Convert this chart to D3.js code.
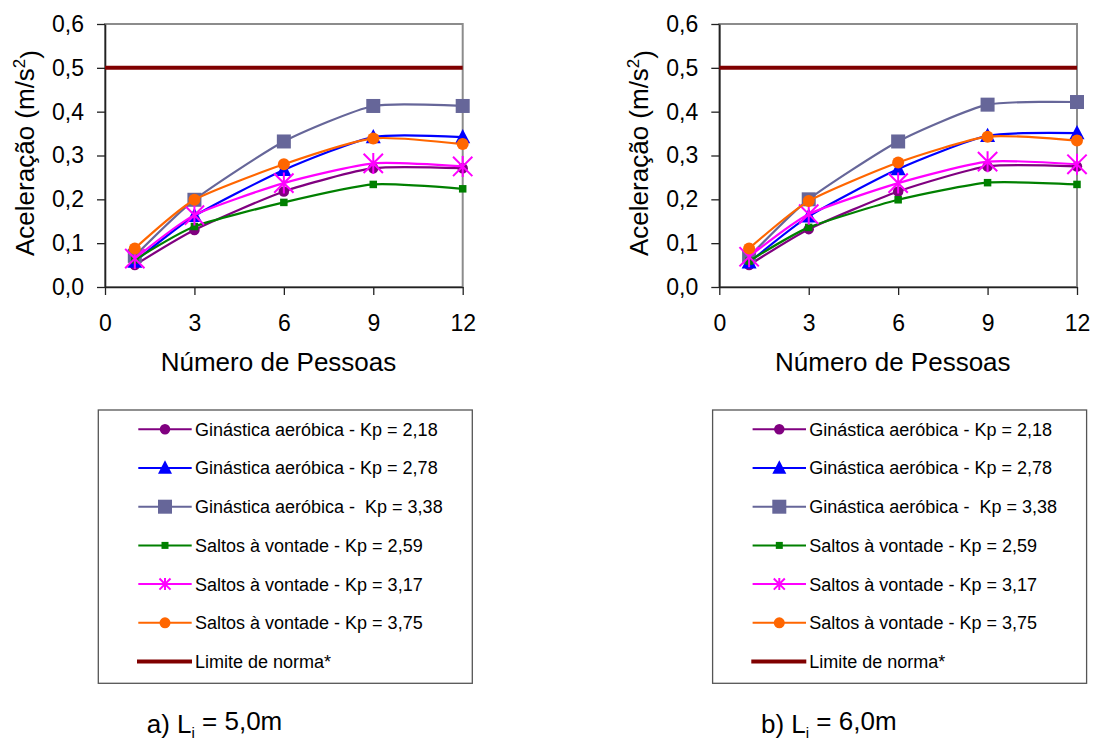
<!DOCTYPE html>
<html>
<head>
<meta charset="utf-8">
<script src="https://cdn.jsdelivr.net/npm/d3@7"></script>
<style>
  html, body { margin: 0; padding: 0; background: #fff; }
  svg { display: block; font-family: "Liberation Sans", Arial, sans-serif; }
</style>
</head>
<body>
<svg id="chart" width="1097" height="742"></svg>
<script>
// ---------- data ----------
const xPeople = [1, 3, 6, 9, 12];
const xTickValues = [0, 3, 6, 9, 12];
const yTickValues = [0, 0.1, 0.2, 0.3, 0.4, 0.5, 0.6];
const seriesLabels = [
  "Ginástica aeróbica - Kp = 2,18",
  "Ginástica aeróbica - Kp = 2,78",
  "Ginástica aeróbica -  Kp = 3,38",
  "Saltos à vontade - Kp = 2,59",
  "Saltos à vontade - Kp = 3,17",
  "Saltos à vontade - Kp = 3,75"
];
const limitLabel = "Limite de norma*";
const limitValue = 0.5;
const yTitle = "Aceleração (m/s";
const xTitle = "Número de Pessoas";

// panel a) Li = 5,0m
const a_gin218 = [0.050, 0.130, 0.218, 0.271, 0.271];
const a_gin278 = [0.058, 0.162, 0.267, 0.342, 0.342];
const a_gin338 = [0.071, 0.199, 0.332, 0.413, 0.413];
const a_sal259 = [0.062, 0.138, 0.193, 0.234, 0.224];
const a_sal317 = [0.065, 0.164, 0.237, 0.282, 0.275];
const a_sal375 = [0.088, 0.199, 0.280, 0.339, 0.326];
// panel b) Li = 6,0m
const b_gin218 = [0.050, 0.132, 0.218, 0.275, 0.275];
const b_gin278 = [0.056, 0.161, 0.269, 0.345, 0.351];
const b_gin338 = [0.069, 0.200, 0.332, 0.416, 0.422];
const b_sal259 = [0.059, 0.136, 0.199, 0.238, 0.234];
const b_sal317 = [0.069, 0.166, 0.237, 0.286, 0.280];
const b_sal375 = [0.088, 0.196, 0.284, 0.343, 0.334];

const captionPrefix = ["a) L", "b) L"];
const captionSuffix = [" = 5,0m", " = 6,0m"];

// ---------- styles ----------
const seriesStyles = [
  { color: "#800080", marker: "circle", size: 10.5, lsize: 10.5 },
  { color: "#0000FF", marker: "triangle", size: 15, lsize: 14 },
  { color: "#666699", marker: "square", size: 14, lsize: 14 },
  { color: "#008000", marker: "square", size: 7.5, lsize: 7 },
  { color: "#FF00FF", marker: "star", size: 21, lsize: 12 },
  { color: "#FF6600", marker: "circle", size: 12, lsize: 11 }
];
const limitColor = "#800000";

const panels = [
  { dx: 0, series: [a_gin218, a_gin278, a_gin338, a_sal259, a_sal317, a_sal375] },
  { dx: 614.3, series: [b_gin218, b_gin278, b_gin338, b_sal259, b_sal317, b_sal375] }
];

const svg = d3.select("#chart");
const FONT = '"Liberation Sans", Arial, sans-serif';

function drawMarker(g, type, x, y, s, color) {
  if (type === "circle") {
    g.append("circle").attr("cx", x).attr("cy", y).attr("r", s / 2).attr("fill", color);
  } else if (type === "square") {
    g.append("rect").attr("x", x - s / 2).attr("y", y - s / 2).attr("width", s).attr("height", s).attr("fill", color);
  } else if (type === "triangle") {
    const h = s * 0.95;
    g.append("path")
      .attr("d", `M${x},${y - h / 2 - 1}L${x + s / 2},${y + h / 2 - 1}L${x - s / 2},${y + h / 2 - 1}Z`)
      .attr("fill", color);
  } else if (type === "star") {
    const r = s / 2;
    const d = r * 0.92;
    g.append("path")
      .attr("d", `M${x},${y - r}L${x},${y + r}M${x - d},${y - d}L${x + d},${y + d}M${x - d},${y + d}L${x + d},${y - d}`)
      .attr("stroke", color).attr("stroke-width", 2).attr("fill", "none");
  }
}

panels.forEach((p, pi) => {
  const g = svg.append("g").attr("transform", `translate(${p.dx},0)`);
  const x = d3.scaleLinear().domain([0, 12]).range([105, 462.7]);
  const y = d3.scaleLinear().domain([0, 0.6]).range([287, 24]);

  // plot frame (top/right gray)
  g.append("rect")
    .attr("x", x(0)).attr("y", y(0.6))
    .attr("width", x(12) - x(0)).attr("height", y(0) - y(0.6))
    .attr("fill", "none").attr("stroke", "#8c8c8c").attr("stroke-width", 2);

  // axes
  const fmt = v => d3.format(".1f")(v).replace(".", ",");
  const yAxis = g.append("g").attr("transform", `translate(${x(0)},0)`)
    .call(d3.axisLeft(y).tickValues(yTickValues).tickFormat(fmt).tickSize(8).tickSizeOuter(0).tickPadding(13));
  const xAxis = g.append("g").attr("transform", `translate(0,${y(0)})`)
    .call(d3.axisBottom(x).tickValues(xTickValues).tickSize(8).tickSizeOuter(0).tickPadding(20));
  [yAxis, xAxis].forEach(a => {
    a.select(".domain").attr("stroke", "#222").attr("stroke-width", 1.6);
    a.selectAll(".tick line").attr("stroke", "#222").attr("stroke-width", 1.3);
    a.selectAll(".tick text").attr("fill", "#000").style("font-family", FONT).style("font-size", "23px");
  });

  // limit line
  g.append("line")
    .attr("x1", x(0)).attr("x2", x(12)).attr("y1", y(limitValue)).attr("y2", y(limitValue))
    .attr("stroke", limitColor).attr("stroke-width", 4);

  // series
  const line = d3.line().x((d, i) => x(xPeople[i])).y(d => y(d)).curve(d3.curveCardinal.tension(0.4));
  p.series.forEach((vals, si) => {
    const st = seriesStyles[si];
    const sg = g.append("g");
    sg.append("path").attr("d", line(vals)).attr("fill", "none")
      .attr("stroke", st.color).attr("stroke-width", 2.2);
    vals.forEach((v, i) => drawMarker(sg, st.marker, x(xPeople[i]), y(v), st.size, st.color));
  });

  // axis titles
  const yt = g.append("text")
    .attr("transform", `translate(34,153) rotate(-90)`)
    .attr("text-anchor", "middle")
    .style("font-size", "26px").attr("fill", "#000");
  yt.append("tspan").text(yTitle);
  yt.append("tspan").attr("dy", "-0.55em").style("font-size", "17px").text("2");
  yt.append("tspan").attr("dy", "0.55em").text(")");

  g.append("text")
    .attr("x", 278.5).attr("y", 371)
    .attr("text-anchor", "middle")
    .style("font-size", "26px").attr("fill", "#000")
    .text(xTitle);

  // legend
  const lg = g.append("g");
  lg.append("rect").attr("x", 98.3).attr("y", 410).attr("width", 374).attr("height", 273.3)
    .attr("fill", "#fff").attr("stroke", "#555").attr("stroke-width", 1.3);
  const rowY = i => 429.3 + i * 38.7;
  seriesLabels.forEach((lab, i) => {
    const st = seriesStyles[i];
    const yy = rowY(i);
    lg.append("line").attr("x1", 138.3).attr("x2", 191.7).attr("y1", yy).attr("y2", yy)
      .attr("stroke", st.color).attr("stroke-width", 2);
    drawMarker(lg, st.marker, 165, yy, st.lsize, st.color);
    lg.append("text").attr("x", 195).attr("y", yy).attr("dy", "0.36em")
      .style("font-size", "18px").style("white-space", "pre").attr("fill", "#000")
      .text(lab);
  });
  const ly = rowY(6);
  lg.append("line").attr("x1", 137).attr("x2", 192).attr("y1", ly).attr("y2", ly)
    .attr("stroke", limitColor).attr("stroke-width", 4);
  lg.append("text").attr("x", 195).attr("y", ly).attr("dy", "0.36em")
    .style("font-size", "18px").attr("fill", "#000").text(limitLabel);

  // caption
  const cap = g.append("text").attr("x", 146.7).attr("y", 733)
    .style("font-size", "26px").attr("fill", "#000");
  cap.append("tspan").text(captionPrefix[pi]);
  cap.append("tspan").attr("dy", "0.3em").style("font-size", "15px").text("i");
  cap.append("tspan").attr("dy", "-0.3em").text(captionSuffix[pi]);
});
</script>
</body>
</html>
